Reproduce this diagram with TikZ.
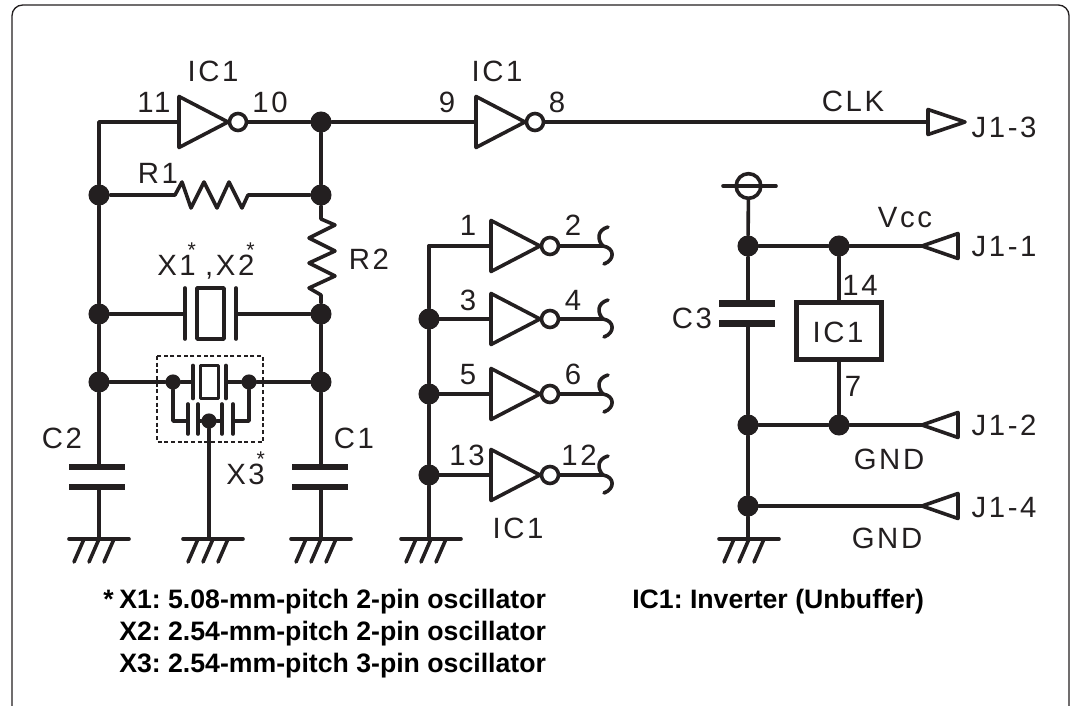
\documentclass[tikz,border=0pt]{standalone}
\usepackage{fontspec}
\setmainfont{Liberation Sans}
\newfontfamily\labelfont[LetterSpace=9]{Liberation Sans}
\usetikzlibrary{calc,positioning}
\definecolor{ink}{HTML}{231F20}
\newcommand{\upstar}{\kern-3pt\makebox[0pt]{\raisebox{13pt}{\fontsize{16}{16}\selectfont *}}\kern3pt}
\tikzset{
    wire/.style={draw=ink,line width=2.7pt,line cap=round,line join=round},
    plate/.style={draw=ink,line width=5.2pt},
    dot/.style={circle,fill=ink,inner sep=0pt,minimum size=15.8pt},
    smalldot/.style={circle,fill=ink,inner sep=0pt,minimum size=11.4pt},
    lbl/.style={anchor=base,inner sep=0pt,text=ink,font=\labelfont\fontsize{22}{22}\selectfont},
    note/.style={anchor=base west,inner sep=0pt,text=black,font=\frenchspacing\bfseries\fontsize{20}{20}\selectfont},
    ground/.pic={
        \coordinate (-top) at (0,0);
        \draw[wire] (-30,0) -- (30,0);
        \foreach \h in {-15,0,15} {
            \draw[wire] (\h,0) -- (\h-10,23);
        }
    },
    cap/.pic={
        \coordinate (-a) at (0,-10);
        \coordinate (-b) at (0,10);
        \draw[plate] (-28,-10) -- (28,-10);
        \draw[plate] (-28,10) -- (28,10);
    },
    inverter/.pic={
        \coordinate (-in) at (0,0);
        \coordinate (-out) at (68,0);
        \draw[wire] (0,-25.5) -- (49,0) -- (0,25.5) -- cycle;
        \draw[wire,fill=white] (59,0) circle (8.5);
    },
    portleft/.pic={
        \coordinate (-tip) at (0,0);
        \draw[wire] (0,0) -- (36,-12.5) -- (36,12.5) -- cycle;
    },
    portright/.pic={
        \coordinate (-back) at (0,0);
        \draw[wire] (0,-12.5) -- (37,0) -- (0,12.5) -- cycle;
    },
    linebreak/.pic={
        \coordinate (-end) at (0,0);
        \draw[wire] (5,-19) .. controls (-6,-16) and (-6,-6) .. (0,0) .. controls (12,2) and (12,14) .. (1,18);
    },
    xtalbig/.pic={
        \coordinate (-l) at (-25.5,0);
        \coordinate (-r) at (25.5,0);
        \draw[wire] (-25.5,-26) -- (-25.5,25);
        \draw[wire] (25.5,-26) -- (25.5,25);
        \draw[wire] (-13.5,-26) rectangle (13.5,25);
    },
    xtalsmall/.pic={
        \coordinate (-l) at (-16.5,0);
        \coordinate (-r) at (16.5,0);
        \draw[wire] (-16.5,-16.5) -- (-16.5,16.5);
        \draw[wire] (16.5,-16.5) -- (16.5,16.5);
        \draw[wire] (-9,-16.5) rectangle (9,16.5);
    }
}
\begin{document}
\begin{tikzpicture}[x=0.75pt,y=-0.75pt]
    \useasboundingbox (0,0) rectangle (1070,706);
    \draw[ink,line width=1pt,rounded corners=8pt] (12,707) -- (12,5) -- (1069,5) -- (1069,707);

    % junctions
    \foreach \n/\x/\y in {a1/321/122,a2/99/195,a3/321/195,a4/99/314,a5/321/314,a6/99/382,a7/321/382,
                          b1/429/319,b2/429/394,b3/429/475,
                          c1/748/246,c2/839/246,c3/748/425,c4/839/425,c5/748/506} {
        \node[dot] (\n) at (\x,\y) {};
    }
    \foreach \n/\x/\y in {xl/173/382,xr/249/382,xc/209/421} {
        \node[smalldot] (\n) at (\x,\y) {};
    }
    \coordinate (lt) at (99,122);
    \coordinate (bt) at (429,246);

    % top row
    \pic (u1) at (179,122) {inverter};
    \pic (u2) at (476,122) {inverter};
    \pic (jc) at (928,122) {portright};
    \draw[wire] (a2) -- (lt) -- (u1-in);
    \draw[wire] (u1-out) -- (a1);
    \draw[wire] (a1) -- (u2-in);
    \draw[wire] (u2-out) -- (jc-back);
    \draw[wire] (a1) -- (a3);

    % R1, R2
    \draw[wire] (a2) -- (173,195) -- (175,195) -- (182,182) -- (191,208) -- (204,182) -- (217,208)
        -- (229,182) -- (242,208) -- (248,195) -- (a3);
    \draw[wire] (a3) -- (321,219) -- (335,225) -- (309,238) -- (335,251) -- (309,263) -- (335,276)
        -- (309,288) -- (321,295) -- (a5);

    % X1, X2, X3
    \pic (xb) at (210.5,314) {xtalbig};
    \pic (xs) at (209.5,382) {xtalsmall};
    \draw[wire] (a4) -- (xb-l);
    \draw[wire] (xb-r) -- (a5);
    \draw[wire] (a6) -- (xl) -- (xs-l);
    \draw[wire] (xs-r) -- (xr) -- (a7);
    \draw[ink,line width=0.8pt,dash pattern=on 3pt off 2pt] (157,356) rectangle (263,442);
    \coordinate (p1) at (188,421);
    \coordinate (p2) at (198,421);
    \coordinate (p3) at (222,421);
    \coordinate (p4) at (233,421);
    \foreach \x in {188,198,222,233} {
        \draw[wire] (\x,404) -- (\x,434);
    }
    \draw[wire] (xl) |- (p1);
    \draw[wire] (xr) |- (p4);
    \draw[wire] (p2) -- (xc) -- (p3);

    % left column
    \pic (g1) at (99,539) {ground};
    \pic (g2) at (213,539) {ground};
    \pic (g3) at (321,539) {ground};
    \pic (g4) at (431,539) {ground};
    \pic (g5) at (749,539) {ground};
    \pic (c2p) at (97,477) {cap};
    \pic (c1p) at (320,477) {cap};
    \pic (c3p) at (747,313.5) {cap};
    \draw[wire] (a2) -- (a4) -- (a6) -- (a6 |- c2p-a);
    \draw[wire] (a6 |- c2p-b) -- (a6 |- g1-top);
    \draw[wire] (a5) -- (a7) -- (a7 |- c1p-a);
    \draw[wire] (a7 |- c1p-b) -- (a7 |- g3-top);
    \draw[wire] (xc) -- (xc |- g2-top);

    % inverters in the middle
    \foreach \n/\y/\p/\q/\s in {1/246/1/2/463,2/319/3/4/461,3/394/5/6/461,4/475/13/12/450} {
        \pic (v\n) at (491,\y) {inverter};
        \pic (k\n) at (603,\y) {linebreak};
        \draw[wire] (v\n-in -| 429,0) -- (v\n-in);
        \draw[wire] (v\n-out) -- (k\n-end);
    }
    \draw[wire] (bt) -- (b1) -- (b2) -- (b3) -- (b3 |- g4-top);

    % right side
    \node[draw=ink,line width=2.7pt,circle,inner sep=0pt,minimum size=18.5pt] (vcc) at (748.5,186) {};
    \coordinate (vl) at (723,186);
    \coordinate (vr) at (776,186);
    \draw[wire] (vl) -- (vr);
    \node[draw=ink,line width=3.4pt,inner sep=0pt,minimum width=64pt,minimum height=43pt] (ic) at (839,331) {};
    \pic (ja) at (922,246) {portleft};
    \pic (jb) at (922,425) {portleft};
    \pic (jd) at (922,506) {portleft};
    \draw[wire] (vcc) -- (c1) -- (c1 |- c3p-a);
    \draw[wire] (c1 |- c3p-b) -- (c3) -- (c5) -- (c5 |- g5-top);
    \draw[wire] (c1) -- (c2) -- (ja-tip);
    \draw[wire] (c3) -- (c4) -- (jb-tip);
    \draw[wire] (c5) -- (jd-tip);
    \draw[wire] (c2) -- (ic);
    \draw[wire] (ic) -- (c4);

    % labels
    \foreach \n/\x/\y/\t in {t1/213/82/IC1,t2/154/113/11,t3/270/113/10,t4/447/113/9,t5/497/82/IC1,t6/557/113/8,
                             t7/158/184/R1,t8/369/269/R2,t9/62/448/C2,t10/354/448/C1,
                             t11/468/235/1,t12/573/235/2,t13/468/310/3,t14/573/310/4,
                             t15/468/384/5,t16/573/384/6,t17/467/465/13,t18/579/465/12,t19/518/538/IC1,
                             t20/853/112/CLK,t21/1004/138/J1-3,t22/905/227/Vcc,t23/1004/256/J1-1,
                             t24/860/295/14,t25/692/328/C3,t26/838/342/IC1,t27/853/396/7,
                             t28/1004/435/J1-2,t29/889/469/GND,t30/1004/517/J1-4,t31/887/548/GND} {
        \node[lbl] (\n) at (\x,\y) {\t};
    }
    \node[lbl,anchor=base west] (tx) at (157,275) {X1\upstar\kern7pt,X2\upstar};
    \node[lbl,anchor=base west] (ty) at (226,484) {X3\upstar};

    % notes
    \node[note] (n0) at (103,608) {*};
    \node[note] (n1) at (119,608) {X1: 5.08-mm-pitch 2-pin oscillator};
    \node[note] (n2) at (119,640) {X2: 2.54-mm-pitch 2-pin oscillator};
    \node[note] (n3) at (119,672) {X3: 2.54-mm-pitch 3-pin oscillator};
    \node[note] (n4) at (632,608) {IC1: Inverter (Unbuffer)};
\end{tikzpicture}
\end{document}
